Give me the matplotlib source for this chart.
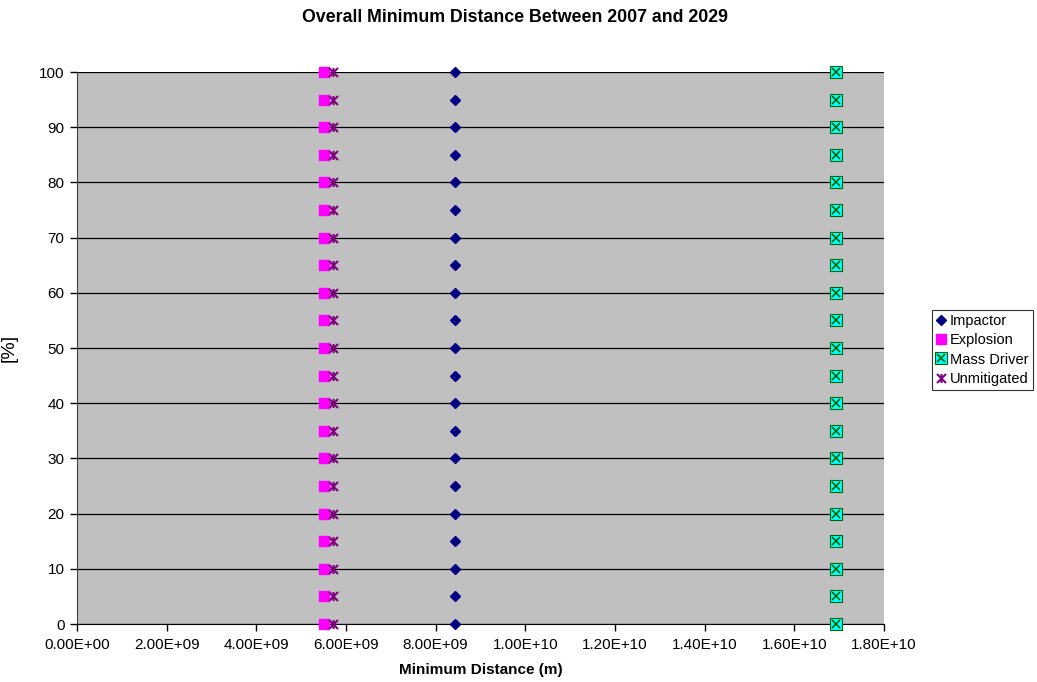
import matplotlib
matplotlib.use("Agg")
import matplotlib.pyplot as plt
from matplotlib.path import Path
from matplotlib.legend_handler import HandlerTuple

plt.rcParams['font.family'] = ['Liberation Sans', 'DejaVu Sans']

# Cumulative percentage levels
percent = list(range(0, 101, 5))

# Minimum distance (m) for each strategy at each percentage level
impactor = [8.44e9] * len(percent)
explosion = [5.51e9] * len(percent)
mass_driver = [1.693e10] * len(percent)
unmitigated = [5.70e9] * len(percent)

x_ticks = [0, 2e9, 4e9, 6e9, 8e9, 1e10, 1.2e10, 1.4e10, 1.6e10, 1.8e10]
y_ticks = list(range(0, 101, 10))

# Star marker: an "x" with a vertical stroke through it
star = Path([(-1, -1), (1, 1), (-1, 1), (1, -1), (0, -1), (0, 1)],
            [Path.MOVETO, Path.LINETO, Path.MOVETO, Path.LINETO, Path.MOVETO, Path.LINETO])

fig = plt.figure(figsize=(10.37, 6.82), dpi=100)
ax = fig.add_axes([77 / 1037, 1 - 624 / 682, (884 - 77) / 1037, (624 - 72) / 682])
ax.set_facecolor('#C0C0C0')

h_imp, = ax.plot(impactor, percent, linestyle='none', marker='D', markersize=5,
                 color='#000080', markeredgecolor='#000080', clip_on=False, zorder=3)
h_exp, = ax.plot(explosion, percent, linestyle='none', marker='s', markersize=7.5,
                 color='#FF00FF', markeredgecolor='#FF00FF', clip_on=False, zorder=3)
h_md1, = ax.plot(mass_driver, percent, linestyle='none', marker='s', markersize=8,
                 color='#00FFFF', markeredgecolor='#006400', markeredgewidth=0.8,
                 clip_on=False, zorder=3)
h_md2, = ax.plot(mass_driver, percent, linestyle='none', marker='x', markersize=6,
                 color='#006400', markeredgewidth=1.2, clip_on=False, zorder=4)
h_unm, = ax.plot(unmitigated, percent, linestyle='none', marker=star, markersize=6.5,
                 color='#800080', markeredgewidth=1.5, clip_on=False, zorder=3)

ax.set_xlim(0, 1.8e10)
ax.set_ylim(0, 100)
ax.set_xticks(x_ticks)
ax.set_xticklabels([f"{v:.2E}" for v in x_ticks])
ax.set_yticks(y_ticks)
ax.yaxis.grid(True, color='black', linewidth=0.9)
ax.set_axisbelow(True)
ax.tick_params(axis='both', direction='out', length=5, width=1, labelsize=11, colors='black')
ax.tick_params(axis='x', pad=5)
ax.tick_params(axis='y', pad=4)

for side in ('top', 'right'):
    ax.spines[side].set_visible(False)
ax.spines['left'].set_color('#404040')
ax.spines['bottom'].set_color('black')

ax.set_xlabel('Minimum Distance (m)', fontsize=11, fontweight='bold', labelpad=8)
ax.set_ylabel('[%]', fontsize=14)
ax.yaxis.set_label_coords(-(77 - 18) / (884 - 77), 0.5)
fig.suptitle('Overall Minimum Distance Between 2007 and 2029', fontsize=12.8,
             fontweight='bold', x=515 / 1037, y=1 - 18 / 682, va='center')

leg = fig.legend([h_imp, h_exp, (h_md1, h_md2), h_unm],
                 ['Impactor', 'Explosion', 'Mass Driver', 'Unmitigated'],
                 handler_map={tuple: HandlerTuple(ndivide=1, pad=0)},
                 loc='center left', bbox_to_anchor=(932 / 1037, 1 - 350 / 682),
                 fontsize=10.5, frameon=True, fancybox=False, borderpad=0.3,
                 handlelength=0.6, handletextpad=0.3, labelspacing=0.35,
                 borderaxespad=0)
leg.get_frame().set_edgecolor('black')
leg.get_frame().set_linewidth(0.8)

fig.savefig('out.png', dpi=100)
